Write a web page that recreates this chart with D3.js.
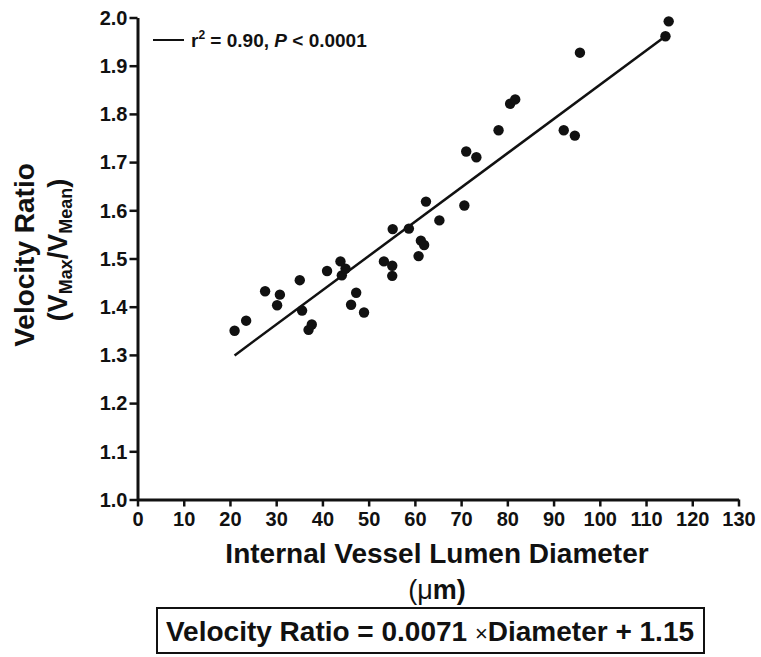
<!DOCTYPE html>
<html>
<head>
<meta charset="utf-8">
<script src="https://cdn.jsdelivr.net/npm/d3@7"></script>
<style>
  body { margin: 0; background: #fff; }
  svg text { font-family: "Liberation Sans", Arial, Helvetica, sans-serif; font-weight: bold; fill: #111; }
</style>
</head>
<body>
<svg width="761" height="657"></svg>
<script>
//  data
var diameter = [21.0, 23.5, 27.6, 30.2, 30.8, 35.1, 35.6, 37.0, 37.7, 41.0,
                43.9, 44.2, 45.0, 46.2, 47.3, 49.0, 53.3, 55.1, 55.1, 55.2,
                58.7, 60.8, 61.3, 62.0, 62.4, 65.3, 70.7, 71.1, 73.3, 78.1,
                80.6, 81.7, 92.2, 94.6, 95.7, 114.2, 114.9];
var velocityRatio = [1.350, 1.371, 1.432, 1.403, 1.425, 1.455, 1.392, 1.352, 1.363, 1.474,
                     1.494, 1.465, 1.479, 1.404, 1.429, 1.388, 1.494, 1.485, 1.464, 1.561,
                     1.562, 1.505, 1.537, 1.528, 1.618, 1.579, 1.610, 1.722, 1.710, 1.766,
                     1.821, 1.830, 1.766, 1.755, 1.927, 1.961, 1.992];

//  regression line endpoints
var fitX = [21.0, 114.2];
var fitY = [1.299, 1.961];

var xTicks = d3.range(0, 131, 10);
var yTicks = [1.0, 1.1, 1.2, 1.3, 1.4, 1.5, 1.6, 1.7, 1.8, 1.9, 2.0];

var svg = d3.select("svg");

//  scales
var x = d3.scaleLinear().domain([0, 130]).range([137.5, 738.5]);
var y = d3.scaleLinear().domain([1.0, 2.0]).range([499.5, 17.5]);

//  axes
var xAxis = d3.axisBottom(x).tickValues(xTicks).tickSize(7).tickPadding(3).tickSizeOuter(0)
  .tickFormat(d3.format("d"));
var yAxis = d3.axisLeft(y).tickValues(yTicks).tickSize(8).tickPadding(2).tickSizeOuter(0)
  .tickFormat(d3.format(".1f"));

var gx = svg.append("g")
  .attr("transform", "translate(0," + y(1.0) + ")")
  .call(xAxis);
var gy = svg.append("g")
  .attr("transform", "translate(" + x(0) + ",0)")
  .call(yAxis);

[gx, gy].forEach(function(g) {
  g.attr("font-size", null).attr("font-family", null);
  g.select(".domain").attr("stroke", "#111").attr("stroke-width", 3);
  g.selectAll(".tick line").attr("stroke", "#111").attr("stroke-width", 2.5);
  g.selectAll(".tick text")
    .attr("fill", "#111")
    .style("font-size", "20px");
});
gx.selectAll(".tick text").attr("dy", "0.8em");
gy.selectAll(".tick text").attr("dy", "0.34em");

//  regression line
var line = d3.line()
  .x(function(d) { return x(d[0]); })
  .y(function(d) { return y(d[1]); });

svg.append("path")
  .datum(d3.zip(fitX, fitY))
  .attr("d", line)
  .attr("fill", "none")
  .attr("stroke", "#111")
  .attr("stroke-width", 2.5);

//  points
svg.append("g").selectAll("circle")
  .data(d3.zip(diameter, velocityRatio))
  .enter().append("circle")
    .attr("cx", function(d) { return x(d[0]); })
    .attr("cy", function(d) { return y(d[1]); })
    .attr("r", 5.2)
    .attr("fill", "#111");

//  legend
svg.append("line")
  .attr("x1", 153).attr("x2", 184)
  .attr("y1", 40).attr("y2", 40)
  .attr("stroke", "#111").attr("stroke-width", 2);

var legend = svg.append("text")
  .attr("x", 191).attr("y", 47)
  .style("font-size", "19px");
legend.append("tspan").text("r");
legend.append("tspan").attr("dy", -8).style("font-size", "12px").text("2");
legend.append("tspan").attr("dy", 8).text(" = 0.90,  ");
legend.append("tspan").style("font-style", "italic").text("P");
legend.append("tspan").text(" < 0.0001");

//  y axis title
svg.append("text")
  .attr("transform", "translate(34,255) rotate(-90)")
  .attr("text-anchor", "middle")
  .style("font-size", "28px")
  .text("Velocity Ratio");

var ySub = svg.append("text")
  .attr("transform", "translate(67,250) rotate(-90)")
  .attr("text-anchor", "middle")
  .style("font-size", "27px");
ySub.append("tspan").text("(V");
ySub.append("tspan").attr("dy", 5).style("font-size", "18px").text("Max");
ySub.append("tspan").attr("dy", -5).text("/V");
ySub.append("tspan").attr("dy", 5).style("font-size", "18px").text("Mean");
ySub.append("tspan").attr("dy", -5).text(")");

//  x axis title
svg.append("text")
  .attr("x", 437).attr("y", 563)
  .attr("text-anchor", "middle")
  .style("font-size", "28px")
  .text("Internal Vessel Lumen Diameter");

var unit = svg.append("text")
  .attr("x", 437).attr("y", 599)
  .attr("text-anchor", "middle")
  .style("font-size", "27px");
unit.append("tspan").style("font-weight", "normal").text("(\u03bc");
unit.append("tspan").text("m)");

//  equation box
svg.append("rect")
  .attr("x", 157).attr("y", 608)
  .attr("width", 547).attr("height", 45)
  .attr("fill", "none")
  .attr("stroke", "#111")
  .attr("stroke-width", 2);

var eq = svg.append("text")
  .attr("x", 430).attr("y", 641)
  .attr("text-anchor", "middle")
  .style("font-size", "28px");
eq.append("tspan").text("Velocity Ratio = 0.0071 ");
eq.append("tspan").style("font-weight", "normal").style("font-size", "22px").text("\u00d7");
eq.append("tspan").text("Diameter + 1.15");
</script>
</body>
</html>
